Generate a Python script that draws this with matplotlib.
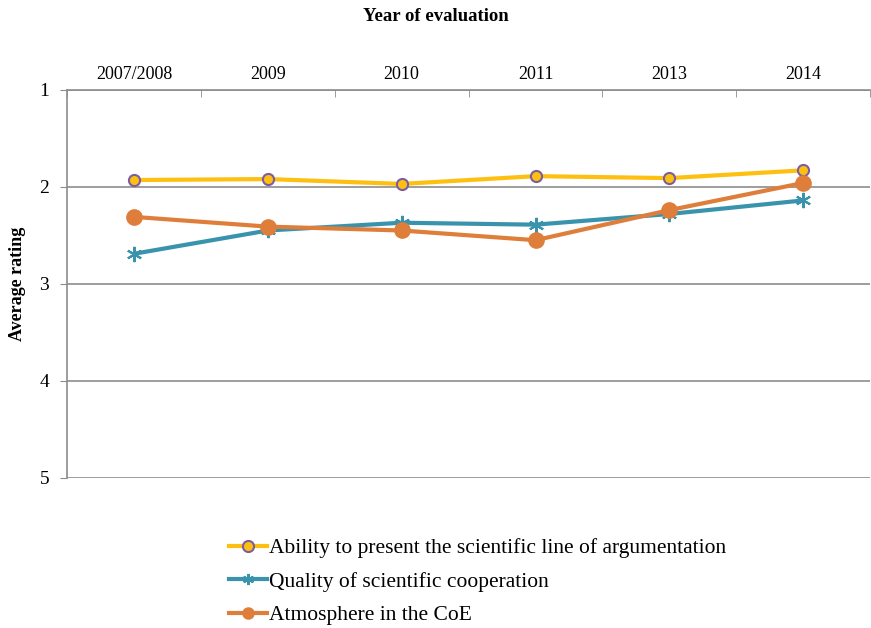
import matplotlib.pyplot as plt

years = ["2007/2008", "2009", "2010", "2011", "2013", "2014"]
ability = [1.93, 1.92, 1.97, 1.89, 1.91, 1.83]
cooperation = [2.69, 2.45, 2.37, 2.39, 2.28, 2.14]
atmosphere = [2.31, 2.41, 2.45, 2.55, 2.24, 1.96]

plt.rcParams["font.family"] = ["Liberation Serif", "DejaVu Serif"]

fig = plt.figure(figsize=(8.71, 6.28), dpi=100)
ax = fig.add_axes([0.077, 0.239, 0.922, 0.618])

x = list(range(len(years)))
ax.plot(x, ability, color="#FDC010", lw=3, marker="o", ms=8,
        mfc="#FDC010", mec="#7B5EA0", mew=1.5,
        label="Ability to present the scientific line of argumentation", zorder=3)
ax.plot(x, cooperation, color="#3A93AD", lw=3, marker=(6, 2, 0), ms=11,
        mec="#3A93AD", mew=1.5, label="Quality of scientific cooperation", zorder=3)
ax.plot(x, atmosphere, color="#DE7E3A", lw=3, marker="o", ms=11,
        mfc="#DE7E3A", mec="#DE7E3A", label="Atmosphere in the CoE", zorder=4)

ax.set_xlim(-0.5, len(years) - 0.5)
ax.set_ylim(5, 1)
ax.set_yticks([1, 2, 3, 4, 5])
ax.yaxis.grid(True, color="#8c8c8c", lw=1.2)
ax.set_axisbelow(True)

ax.xaxis.tick_top()
ax.set_xticks(x)
ax.set_xticklabels(years, fontsize=13)
ax.set_xticks([i - 0.5 for i in range(len(years) + 1)], minor=True)
ax.tick_params(axis="x", which="major", length=0, pad=5)
ax.tick_params(axis="x", which="minor", length=5, color="#8c8c8c", direction="in")
ax.tick_params(axis="y", length=5, color="#8c8c8c", labelsize=14, pad=8)

fig.text(0.5, 0.973, "Year of evaluation", fontsize=13.5, fontweight="bold",
         ha="center", va="center")
fig.text(0.02, 0.548, "Average rating", fontsize=13, fontweight="bold",
         rotation=90, ha="center", va="center")

for s in ["right", "bottom"]:
    ax.spines[s].set_visible(False)
for s in ["left", "top"]:
    ax.spines[s].set_color("#8c8c8c")
    ax.spines[s].set_linewidth(1.2)

leg = fig.legend(loc="upper left", bbox_to_anchor=(0.263, 0.143), frameon=False,
                 fontsize=15.5, handlelength=1.75, handletextpad=0.1,
                 labelspacing=0.62, borderaxespad=0, borderpad=0)
for h in leg.legend_handles:
    h.set_markersize(8)

fig.savefig("out.png", dpi=100)
